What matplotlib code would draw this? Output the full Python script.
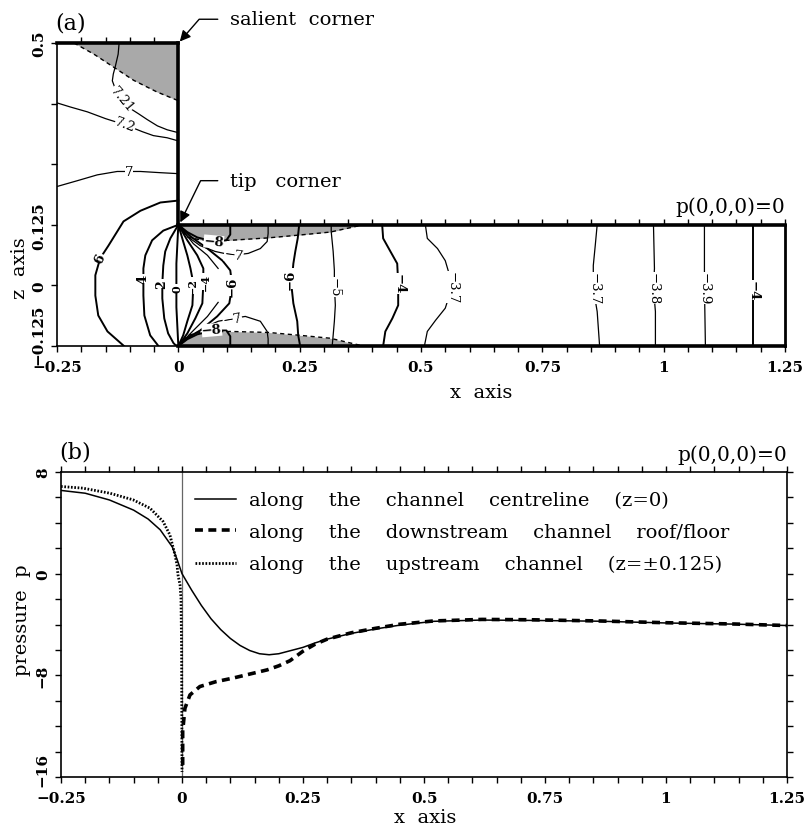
import numpy as np
import matplotlib
matplotlib.use('Agg')
import matplotlib.pyplot as plt
from matplotlib.ticker import MultipleLocator
from matplotlib.transforms import ScaledTranslation

plt.rcParams['font.family'] = ['DejaVu Serif']
plt.rcParams['axes.unicode_minus'] = True

# ---- panel (a): pressure contours (x, z) ----
c721_x = [-0.122, -0.124, -0.130, -0.134, -0.136, -0.126, -0.107, -0.082, -0.064, -0.043, -0.023, 0.0]
c721_z = [0.5, 0.477, 0.451, 0.436, 0.422, 0.395, 0.370, 0.354, 0.342, 0.329, 0.321, 0.315]
c72_x = [-0.25, -0.2225, -0.1875, -0.150, -0.109, -0.074, -0.0515, -0.023, 0.0]
c72_z = [0.3765, 0.368, 0.358, 0.344, 0.331, 0.317, 0.309, 0.3045, 0.298]
c7_x = [-0.25, -0.208, -0.167, -0.126, -0.103, -0.078, -0.037, 0.0]
c7_z = [0.204, 0.216, 0.228, 0.235, 0.235, 0.235, 0.2325, 0.2305]
c6_x = [0.0, -0.037, -0.078, -0.113, -0.144, -0.161, -0.171, -0.171, -0.165, -0.146, -0.112]
c6_z = [0.175, 0.171, 0.154, 0.132, 0.082, 0.056, 0.021, -0.021, -0.062, -0.095, -0.125]
c4_x = [0.0, -0.031, -0.054, -0.068, -0.072, -0.072, -0.072, -0.070, -0.058, -0.041]
c4_z = [0.125, 0.113, 0.093, 0.062, 0.035, 0.014, -0.021, -0.062, -0.103, -0.125]
c2_x = [0.0, -0.0165, -0.027, -0.031, -0.033, -0.033, -0.029, -0.021, -0.010, -0.004]
c2_z = [0.125, 0.097, 0.070, 0.041, 0.004, -0.027, -0.068, -0.099, -0.119, -0.125]
c0_x = [0.0, -0.002, -0.004, -0.004, -0.004, -0.002, 0.0]
c0_z = [0.125, 0.085, 0.045, 0.0, -0.045, -0.085, -0.125]
cm2_x = [0.0, 0.010, 0.0185, 0.025, 0.031, 0.029, 0.0185, 0.010, 0.0]
cm2_z = [0.125, 0.0905, 0.062, 0.035, 0.004, -0.041, -0.074, -0.103, -0.125]
cm4_x = [0.0, 0.0185, 0.039, 0.0515, 0.0515, 0.0495, 0.035, 0.0185, 0.0]
cm4_z = [0.125, 0.093, 0.062, 0.035, 0.004, -0.037, -0.068, -0.099, -0.125]
cm5_x = [0.0, 0.031, 0.060, 0.082, np.nan, 0.082, 0.060, 0.031, 0.0]
cm5_z = [0.125, 0.086, 0.062, 0.035, np.nan, -0.035, -0.064, -0.093, -0.125]
cm6_x = [0.0, 0.025, 0.060, 0.091, 0.107, 0.111, 0.105, 0.080, 0.045, 0.010, 0.0]
cm6_z = [0.125, 0.101, 0.076, 0.051, 0.031, 0.0, -0.037, -0.064, -0.093, -0.113, -0.125]
cm8u_x = [0.0, 0.0185, 0.039, 0.072, 0.099, 0.107, 0.107]
cm8u_z = [0.125, 0.110, 0.099, 0.0905, 0.093, 0.105, 0.125]
cm8l_x = [0.0, 0.0185, 0.039, 0.072, 0.099, 0.107, 0.107]
cm8l_z = [-0.125, -0.111, -0.101, -0.093, -0.093, -0.105, -0.125]
cm7u_x = [0.0, 0.0185, 0.045, 0.076, 0.113, 0.144, 0.169, 0.183, 0.185, 0.185]
cm7u_z = [0.125, 0.101, 0.082, 0.070, 0.062, 0.066, 0.076, 0.0905, 0.107, 0.125]
cm7l_x = [0.0, 0.025, 0.060, 0.082, 0.113, 0.138, 0.169, 0.183, 0.185, 0.185]
cm7l_z = [-0.125, -0.105, -0.084, -0.074, -0.068, -0.064, -0.074, -0.095, -0.110, -0.125]
cm6r_x = [0.249, 0.246, 0.241, 0.237, 0.233, 0.237, 0.245, 0.247, 0.251]
cm6r_z = [0.125, 0.097, 0.070, 0.045, 0.0, -0.037, -0.074, -0.103, -0.125]
cm5r_x = [0.315, 0.315, 0.319, 0.3215, 0.3215, 0.3235, 0.3215, 0.319, 0.317]
cm5r_z = [0.125, 0.111, 0.070, 0.031, 0.0, -0.041, -0.074, -0.103, -0.125]
cm4m_x = [0.420, 0.422, 0.437, 0.451, 0.453, 0.453, 0.441, 0.4265, 0.422]
cm4m_z = [0.125, 0.097, 0.070, 0.045, 0.004, -0.041, -0.068, -0.095, -0.125]
cm37a_x = [0.509, 0.513, 0.534, 0.550, 0.565, 0.550, 0.530, 0.513, 0.507]
cm37a_z = [0.125, 0.097, 0.076, 0.051, 0.0, -0.047, -0.072, -0.095, -0.125]
cm37b_x = [0.863, 0.859, 0.855, 0.855, 0.863, 0.868]
cm37b_z = [0.125, 0.082, 0.041, -0.006, -0.054, -0.125]
cm38_x = [0.979, 0.981, 0.979, 0.983, 0.983]
cm38_z = [0.125, 0.035, -0.006, -0.054, -0.125]
cm39_x = [1.084, 1.084, 1.086]
cm39_z = [0.125, 0.0, -0.125]
cm4r_x = [1.184, 1.184]
cm4r_z = [0.125, -0.125]

# contour labels: text, x, z, rotation, bold, size
lab_text = ['7.21', '7.2', '7', '6', '4', '2', '0', '\u22122', '\u22124', '\u22126',
            '\u22128', '\u22127', '\u22127', '\u22128', '\u22126', '\u22125', '\u22124',
            '\u22123.7', '\u22123.7', '\u22123.8', '\u22123.9', '\u22124']
lab_x = [-0.116, -0.109, -0.102, -0.161, -0.072, -0.034, -0.003, 0.029, 0.056, 0.111,
         0.073, 0.114, 0.111, 0.069, 0.231, 0.320, 0.454, 0.564, 0.856, 0.979, 1.084, 1.184]
lab_z = [0.385, 0.332, 0.234, 0.056, 0.014, 0.004, -0.006, 0.0, 0.008, 0.0,
         0.090, 0.062, -0.068, -0.092, 0.014, -0.003, 0.004, -0.003, -0.006, -0.006, -0.006, -0.01]
lab_rot = [-50, -20, 0, 65, 90, 90, 90, 90, 90, 90, -5, -8, 10, 5, 90, -90, -90, -90, -90, -90, -90, -90]
lab_bold = [0, 0, 0, 1, 1, 1, 1, 1, 1, 1, 1, 0, 0, 1, 1, 0, 1, 0, 0, 0, 0, 1]
lab_size = [9.5, 9.5, 9.5, 9.5, 9.5, 9, 8, 8, 8, 9.5, 9.5, 9.5, 9.5, 9.5, 9.5, 9.5, 9.5, 9.5,
            9.5, 9.5, 9.5, 9.5]

# shaded regions (dashed boundaries)
gul_x = [-0.215, -0.174, -0.133, -0.092, -0.044, 0.0]
gul_z = [0.5, 0.477, 0.450, 0.423, 0.399, 0.381]
gtu_x = [0.0, 0.02, 0.045, 0.107, 0.185, 0.251, 0.313, 0.381]
gtu_z = [0.125, 0.099, 0.094, 0.093, 0.098, 0.104, 0.110, 0.125]
gtl_x = [0.0, 0.02, 0.045, 0.107, 0.185, 0.251, 0.313, 0.381]
gtl_z = [-0.125, -0.103, -0.097, -0.095, -0.097, -0.103, -0.109, -0.125]

xa_ticks = [-0.25, 0, 0.25, 0.5, 0.75, 1, 1.25]
xa_labels = ['\u22120.25', '0', '0.25', '0.5', '0.75', '1', '1.25']
za_ticks = [-0.125, 0, 0.125, 0.25, 0.375, 0.5]
za_labels = ['\u22120.125', '0', '0.125', '', '', '0.5']

# ---- panel (b): pressure profiles ----
x_centre = [-0.25, -0.2, -0.15, -0.1, -0.07, -0.045, -0.02, -0.01, 0.0, 0.02, 0.04, 0.06,
            0.08, 0.1, 0.12, 0.14, 0.16, 0.18, 0.2, 0.22, 0.25, 0.275, 0.3, 0.35, 0.4, 0.45,
            0.52, 0.62, 0.725, 0.86, 1.0, 1.14, 1.25]
p_centre = [6.55, 6.33, 5.8, 5.0, 4.3, 3.45, 2.1, 1.1, 0.0, -1.3, -2.5, -3.55,
            -4.4, -5.1, -5.65, -6.05, -6.3, -6.38, -6.3, -6.1, -5.8, -5.45, -5.15, -4.7, -4.35, -4.05,
            -3.75, -3.65, -3.68, -3.74, -3.88, -3.97, -4.08]
x_down = [0.0014, 0.0014, 0.006, 0.0165, 0.037, 0.07, 0.105, 0.14, 0.176, 0.2, 0.223, 0.25,
          0.275, 0.3, 0.35, 0.4, 0.45, 0.52, 0.62, 0.725, 0.86, 1.0, 1.14, 1.25]
p_down = [-15.05, -12.4, -10.6, -9.54, -8.88, -8.5, -8.22, -7.9, -7.57, -7.25, -6.85, -6.1,
          -5.55, -5.15, -4.65, -4.3, -3.98, -3.72, -3.6, -3.63, -3.72, -3.86, -3.96, -4.08]
x_up = [-0.25, -0.205, -0.149, -0.101, -0.066, -0.039, -0.025, -0.0145, -0.0103, -0.0083,
        -0.0041, -0.0021, -0.0008, 0.0]
p_up = [6.86, 6.73, 6.33, 5.81, 5.15, 4.10, 3.05, 1.48, 0.69, -0.09, -0.88, -1.93, -6.0, -15.6]

xb_ticks = [-0.25, 0, 0.25, 0.5, 0.75, 1, 1.25]
xb_labels = ['\u22120.25', '0', '0.25', '0.5', '0.75', '1', '1.25']
pb_ticks = [-16, -8, 0, 8]
pb_labels = ['\u221216', '\u22128', '0', '8']

legend_labels = ['along    the    channel    centreline    (z=0)',
                 'along    the    downstream    channel    roof/floor',
                 'along    the    upstream    channel    (z=\u00b10.125)']

W, H = 806, 829
fig = plt.figure(figsize=(W / 100, H / 100), dpi=100)

# panel (a) main axes
A_L, A_R, A_T, A_B = 57, 785, 44, 347
ax = fig.add_axes([A_L / W, (H - A_B) / H, (A_R - A_L) / W, (A_B - A_T) / H])
ax.set_xlim(-0.25, 1.25)
ax.set_ylim(-0.125, 0.5)


def sub_rect(x0, x1, z0, z1):
    l, b, w, h = ax.get_position().bounds
    return [l + w * (x0 + 0.25) / 1.5, b + h * (z0 + 0.125) / 0.625,
            w * (x1 - x0) / 1.5, h * (z1 - z0) / 0.625]


for s in ['top', 'right']:
    ax.spines[s].set_visible(False)
for s in ['left', 'bottom']:
    ax.spines[s].set_linewidth(1.2)
ax.set_xticks(xa_ticks)
ax.set_xticklabels(xa_labels)
ax.xaxis.set_minor_locator(MultipleLocator(0.05))
ax.set_yticks(za_ticks)
ax.set_yticklabels(za_labels, rotation=90, va='center')
ax.tick_params(which='both', direction='out', length=4, width=1, labelsize=11)
ax.tick_params(axis='x', pad=6)
ax.tick_params(axis='y', pad=4)
for t in ax.get_xticklabels() + ax.get_yticklabels():
    t.set_fontweight('bold')
lab0 = ax.get_yticklabels()[0]
lab0.set_transform(lab0.get_transform() + ScaledTranslation(0, 0.12, fig.dpi_scale_trans))

# shaded zones
ax.fill_between(gul_x, gul_z, 0.5, color='#a9a9a9', lw=0)
ax.fill_between(gtu_x, gtu_z, 0.125, color='#a9a9a9', lw=0)
ax.fill_between(gtl_x, gtl_z, -0.125, color='#a9a9a9', lw=0)
for gx, gz in [(gul_x, gul_z), (gtu_x, gtu_z), (gtl_x, gtl_z)]:
    ax.plot(gx, gz, color='k', lw=1.0, ls=(0, (3, 2.5)))

thick = [(c6_x, c6_z), (c4_x, c4_z), (c2_x, c2_z), (c0_x, c0_z), (cm2_x, cm2_z),
         (cm4_x, cm4_z), (cm6_x, cm6_z), (cm8u_x, cm8u_z), (cm8l_x, cm8l_z),
         (cm6r_x, cm6r_z), (cm4m_x, cm4m_z), (cm4r_x, cm4r_z)]
thin = [(c721_x, c721_z), (c72_x, c72_z), (c7_x, c7_z), (cm5_x, cm5_z), (cm7u_x, cm7u_z),
        (cm7l_x, cm7l_z), (cm5r_x, cm5r_z), (cm37a_x, cm37a_z), (cm37b_x, cm37b_z),
        (cm38_x, cm38_z), (cm39_x, cm39_z)]
for cx, cz in thick:
    ax.plot(cx, cz, color='k', lw=1.4)
for cx, cz in thin:
    ax.plot(cx, cz, color='k', lw=0.9)

for s, x, z, r, b, fs in zip(lab_text, lab_x, lab_z, lab_rot, lab_bold, lab_size):
    ax.text(x, z, s, rotation=r, ha='center', va='center', rotation_mode='anchor',
            fontsize=fs, fontweight='bold' if b else 'normal',
            bbox=dict(fc='white', ec='none', pad=0.0), zorder=5)

# walls of the cavity: upstream part and downstream channel
ax_u = fig.add_axes(sub_rect(-0.25, 0, -0.125, 0.5))
ax_u.set_xlim(-0.25, 0)
ax_u.set_ylim(-0.125, 0.5)
ax_u.patch.set_visible(False)
ax_u.spines['left'].set_visible(False)
ax_u.spines['bottom'].set_visible(False)
ax_u.spines['top'].set_linewidth(2.6)
ax_u.spines['right'].set_linewidth(2.6)
ax_u.spines['right'].set_bounds(0.125, 0.5)
ax_u.xaxis.set_ticks_position('top')
ax_u.set_xticks([-0.2, -0.15, -0.1, -0.05])
ax_u.tick_params(axis='x', direction='out', length=4, width=1, labeltop=False, labelbottom=False)
ax_u.set_yticks([])

ax_d = fig.add_axes(sub_rect(0, 1.25, -0.125, 0.125))
ax_d.set_xlim(0, 1.25)
ax_d.set_ylim(-0.125, 0.125)
ax_d.patch.set_visible(False)
ax_d.spines['left'].set_visible(False)
ax_d.spines['top'].set_linewidth(2.6)
ax_d.spines['bottom'].set_linewidth(2.6)
ax_d.spines['right'].set_linewidth(2.0)
ax_d.xaxis.set_ticks_position('top')
ax_d.xaxis.set_major_locator(MultipleLocator(0.05))
ax_d.tick_params(axis='x', direction='out', length=4, width=1, labeltop=False, labelbottom=False)
ax_d.set_yticks([])

ax.text(-0.003, 1.068, '(a)', transform=ax.transAxes, fontsize=16, ha='left', va='center')
ax.text(1.25, 0.163, 'p(0,0,0)=0', fontsize=14.5, ha='right', va='center')
ax.text(0.582, -0.151, 'x  axis', transform=ax.transAxes, fontsize=14, ha='center', va='center')
ax.text(-0.051, 0.26, 'z  axis', transform=ax.transAxes, fontsize=14, ha='center', va='center',
        rotation=90)
ax.annotate('salient  corner', xy=(0.003, 0.503), xytext=(0.107, 0.549), fontsize=14,
            ha='left', va='center', annotation_clip=False,
            arrowprops=dict(arrowstyle='-|>', connectionstyle='angle,angleA=0,angleB=49,rad=0',
                            relpos=(0, 0.5), shrinkA=7, shrinkB=0, lw=1, color='k',
                            mutation_scale=16))
ax.annotate('tip   corner', xy=(0.004, 0.13), xytext=(0.107, 0.216), fontsize=14,
            ha='left', va='center', annotation_clip=False,
            arrowprops=dict(arrowstyle='-|>', connectionstyle='angle,angleA=0,angleB=64,rad=0',
                            relpos=(0, 0.5), shrinkA=7, shrinkB=0, lw=1, color='k',
                            mutation_scale=16))

# panel (b)
B_L, B_R, B_T, B_B = 61, 787, 473, 778
axb = fig.add_axes([B_L / W, (H - B_B) / H, (B_R - B_L) / W, (B_B - B_T) / H])
axb.set_xlim(-0.25, 1.25)
axb.set_ylim(-16, 8)
for s in axb.spines.values():
    s.set_linewidth(1.2)
axb.set_xticks(xb_ticks)
axb.set_xticklabels(xb_labels)
axb.xaxis.set_minor_locator(MultipleLocator(0.05))
axb.set_yticks(pb_ticks)
axb.set_yticklabels(pb_labels, rotation=90, va='center')
axb.yaxis.set_minor_locator(MultipleLocator(2))
axb.tick_params(which='both', direction='out', length=4, width=1, top=True, right=True,
                labelsize=11)
axb.tick_params(axis='x', pad=6)
axb.tick_params(axis='y', pad=4)
for t in axb.get_xticklabels() + axb.get_yticklabels():
    t.set_fontweight('bold')
labb0 = axb.get_yticklabels()[0]
labb0.set_transform(labb0.get_transform() + ScaledTranslation(0, 0.08, fig.dpi_scale_trans))

axb.axvline(0, color='0.4', lw=0.9)
axb.plot(x_centre, p_centre, color='k', lw=1.1, label=legend_labels[0])
axb.plot(x_down, p_down, color='k', lw=2.6, ls=(0, (2.2, 1.5)), label=legend_labels[1])
axb.plot(x_up, p_up, color='k', lw=2.0, ls=(0, (0.6, 0.6)), label=legend_labels[2])

axb.legend(loc='upper left', bbox_to_anchor=(0.1846, 0.937), frameon=False, fontsize=14,
           borderpad=0, borderaxespad=0, handlelength=2.1, handletextpad=0.7,
           labelspacing=0.71)

axb.text(-0.003, 1.066, '(b)', transform=axb.transAxes, fontsize=16, ha='left', va='center')
axb.text(1.0, 1.059, 'p(0,0,0)=0', transform=axb.transAxes, fontsize=14.5, ha='right',
         va='center')
axb.text(0.501, -0.131, 'x  axis', transform=axb.transAxes, fontsize=14, ha='center',
         va='center')
axb.text(-0.054, 0.518, 'pressure  p', transform=axb.transAxes, fontsize=14, ha='center',
         va='center', rotation=90)

fig.savefig('out.png', dpi=100)
